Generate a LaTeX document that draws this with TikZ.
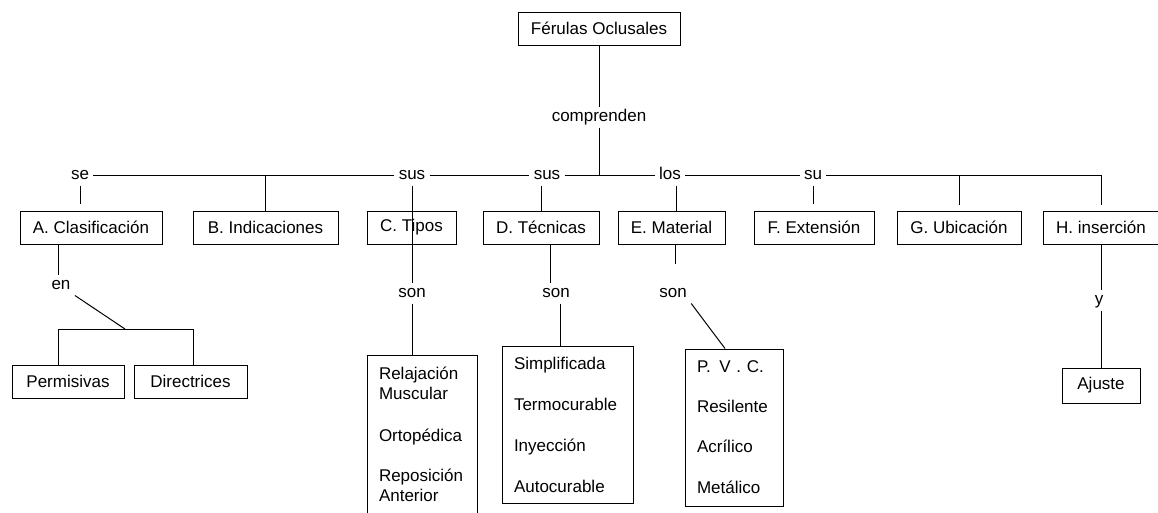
\documentclass[tikz,border=0pt]{standalone}
\usepackage{fontspec}
\setmainfont{Liberation Sans}

\begin{document}
\begin{tikzpicture}
            [x=1pt, y=-1pt, line width=1pt,
            font=\fontsize{17}{20}\selectfont,
            concept/.style={rectangle, align=center, draw=black, minimum height=33pt},
            listbox/.style={rectangle, align=left, draw=black, inner xsep=12pt},
            linkword/.style={inner xsep=4pt, inner ysep=2pt, text height=12pt, text depth=4pt}]

            \fill[white] (0,0) rectangle (1158,512);
            \useasboundingbox (0,0) rectangle (1158,512);

            \node[concept, minimum width=162pt] (ferulas) at (599,28.5) {Férulas Oclusales};
            \node[linkword] (comprenden) at (599,117) {comprenden};

            % words on the main bar
            \node[linkword] (se) at (80,175) {se};
            \node[linkword] (sus1) at (412,175) {sus};
            \node[linkword] (sus2) at (547,175) {sus};
            \node[linkword] (los) at (670,175) {los};
            \node[linkword] (su) at (813,175) {su};
            \coordinate (mainR) at (1101,175);

            \node[concept, minimum width=142pt] (clasif) at (91,227.5) {A. Clasificación};
            \node[concept, minimum width=145pt] (indic) at (265.5,227.5) {B. Indicaciones};
            \node[concept, minimum width=89pt] (tipos) at (411.5,227.5) {C. Tipos};
            \node[concept, minimum width=116pt] (tecnicas) at (541,227.5) {D. Técnicas};
            \node[concept, minimum width=107pt] (material) at (671.5,227.5) {E. Material};
            \node[concept, minimum width=120pt] (extension) at (814,227.5) {F. Extensión};
            \node[concept, minimum width=124pt] (ubic) at (959,227.5) {G. Ubicación};
            \node[concept, minimum width=116pt] (insercion) at (1101,227.5) {H. inserción};

            \node[linkword] (en) at (61,285) {en};
            \node[linkword] (son1) at (412,293) {son};
            \node[linkword] (son2) at (556,293) {son};
            \node[linkword] (son3) at (673,293) {son};
            \node[linkword] (yword) at (1099,300) {y};
            \coordinate (fork) at (125,329);

            \node[concept, minimum width=112pt] (perm) at (68,381.5) {Permisivas};
            \node[concept, minimum width=113pt] (direc) at (190.5,381.5) {Directrices};
            \node[concept, minimum width=78pt, minimum height=35pt] (ajuste) at (1101,385.5) {Ajuste};

            \node[listbox, text width=86pt, minimum height=159pt] (tiposlist) at (422,434.5)
                {Relajación\\Muscular\\[22pt]Ortopédica\\[20pt]Reposición\\Anterior};
            \node[listbox, text width=107pt, minimum height=157pt] (tecnlist) at (567.5,424.5)
                {Simplificada\\[21pt]Termocurable\\[21pt]Inyección\\[21pt]Autocurable};
            \node[listbox, text width=74pt, minimum height=157pt] (matlist) at (734,427.5)
                {P.\enspace V . C.\\[20pt]Resilente\\[20pt]Acrílico\\[21pt]Metálico};

            \draw (ferulas) -- (comprenden);
            \draw (comprenden) -- (comprenden |- los);
            \draw[shorten >=6pt] (se) -- (sus1) -- (sus2) -- (los) -- (su) -- (mainR) -- (insercion);
            \draw[shorten >=6pt] (ubic.north |- mainR) -- (ubic);
            \draw (indic.north |- mainR) -- (indic);

            % A
            \draw[shorten >=7pt] (se.south) -- (se.south |- clasif.north);
            \draw ([xshift=-3pt]en.north |- clasif.south) -- ([xshift=-3pt]en.north);
            \draw (en.south east) -- (fork);
            \draw ([xshift=-10pt]perm.north) |- ([xshift=3pt]direc.north |- fork) -- ([xshift=3pt]direc.north);

            % C
            \draw (sus1) -- (son1);
            \draw (son1) -- (son1 |- tiposlist.north);

            % D
            \draw (tecnicas.north |- sus2.south) -- (tecnicas.north);
            \draw ([xshift=9pt]tecnicas.south) -- ([xshift=9pt]tecnicas.south |- son2.north);
            \draw ([xshift=4pt]son2.south) -- ([xshift=4pt]son2.south |- tecnlist.north);

            % E
            \draw ([xshift=6pt]los.south) -- ([xshift=6pt]los.south |- material.north);
            \draw[shorten >=19pt] ([xshift=4pt]material.south) -- ([xshift=4pt]material.south |- son3.north);
            \draw (son3.south east) -- ([xshift=-9pt]matlist.north);

            % F
            \draw[shorten >=7pt] (su.south) -- (su.south |- extension.north);

            % H
            \draw (insercion.south) -- (insercion.south |- yword.north);
            \draw (insercion.south |- yword.south) -- (ajuste.north);
        \end{tikzpicture}
\end{document}
